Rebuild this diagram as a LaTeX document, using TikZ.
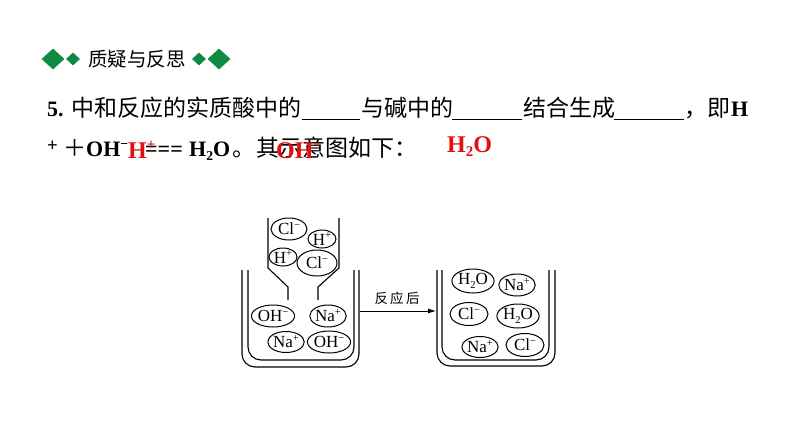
\documentclass[tikz,border=0pt]{standalone}
\usepackage{fontspec}
\usepackage{graphicx}
\setmainfont{Liberation Serif}
\newfontfamily\cjk{Noto Sans CJK SC}
\usetikzlibrary{shapes.geometric, arrows.meta}
\definecolor{mygreen}{HTML}{0F8A43}
\definecolor{myred}{HTML}{E01010}
\newcommand{\chup}[1]{\raisebox{0.36em}{\scalebox{0.62}{#1}}}
\newcommand{\chdn}[1]{\raisebox{-0.2em}{\scalebox{0.62}{#1}}}
\begin{document}
\begin{tikzpicture}[x=1pt, y=-1pt]
        \tikzstyle{big}=[draw=none, diamond, fill=mygreen,
            minimum width=23pt, minimum height=21pt, inner sep=0pt]
        \tikzstyle{small}=[draw=none, diamond, fill=mygreen,
            minimum width=14pt, minimum height=13pt, inner sep=0pt]
        \tikzstyle{title}=[inner sep=0pt, font=\cjk\fontsize{19.5}{20}\selectfont]
        \tikzstyle{line}=[anchor=base west, inner sep=0pt,
            font=\cjk\fontsize{23}{23}\selectfont]
        \tikzstyle{latin}=[anchor=base west, inner sep=0pt,
            font=\bfseries\fontsize{22}{22}\selectfont]
        \tikzstyle{answer}=[anchor=base west, inner sep=0pt, text=myred,
            font=\bfseries\fontsize{24}{24}\selectfont]
        \tikzstyle{ion}=[draw, ellipse, inner sep=0pt, line width=1pt,
            font=\fontsize{17}{17}\selectfont]
        \tikzstyle{wall}=[line width=1.1pt, rounded corners=13pt]
        \useasboundingbox (0, 0) rectangle (794, 447);

        \node[big] (d1) at (53, 59) {};
        \node[small] (d2) at (73, 59) {};
        \node[title] (head) at (137, 59) {质疑与反思};
        \node[small] (d3) at (199, 59) {};
        \node[big] (d4) at (219, 59) {};

        \node[latin] (num) at (47, 116) {5.};
        \node[line] (t1) at (71, 116) {中和反应的实质酸中的};
        \node[line] (t2) at (361, 116) {与碱中的};
        \node[line] (t3) at (523, 116) {结合生成};
        \node[line] (t4) at (684, 116) {，};
        \node[line] (t5) at (707, 116) {即};
        \node[latin] (hh) at (731, 116) {H};
        \draw[line width=1pt] (302, 119) -- (360, 119);
        \draw[line width=1pt] (452, 119) -- (522, 119);
        \draw[line width=1pt] (614, 119) -- (684, 119);

        \node[latin] (plus) at (47, 151) {\scalebox{0.85}{+}};
        \node[line] (pl) at (63, 156) {＋};
        \node[latin] (oh) at (86, 156) {OH\chup{−}};
        \node[latin] (eq) at (145, 156) {===};
        \node[latin] (wat) at (189, 156) {H\chdn{2}O};
        \node[line] (t6) at (232, 156) {。};
        \node[line] (t7) at (256, 156) {其示意图如下：};
        \node[answer] (ans1) at (128, 158) {H\chup{+}};
        \node[answer] (ans2) at (276, 158) {OH\chup{−}};
        \node[answer] (ans3) at (447, 152) {H\chdn{2}O};

        % left beaker
        \draw[wall] (242, 270) -- (242, 367) -- (359, 367) -- (359, 270);
        \draw[wall] (248, 270) -- (248, 360) -- (354, 360) -- (354, 270);
        % funnel
        \draw[line width=1.1pt] (268, 218) -- (268, 268) -- (288, 287) -- (288, 300);
        \draw[line width=1.1pt] (339, 218) -- (339, 268) -- (318, 287) -- (318, 300);
        % right beaker
        \draw[wall] (437, 270) -- (437, 366) -- (555, 366) -- (555, 270);
        \draw[wall] (442, 270) -- (442, 360) -- (549, 360) -- (549, 270);

        \node[ion, minimum width=36pt, minimum height=22pt] (cl1) at (289, 229) {Cl\chup{−}};
        \node[ion, minimum width=28pt, minimum height=18pt] (h1) at (322, 239) {H\chup{+}};
        \node[ion, minimum width=28pt, minimum height=18pt] (h2) at (283, 257) {H\chup{+}};
        \node[ion, minimum width=40pt, minimum height=26pt] (cl2) at (317, 263) {Cl\chup{−}};
        \node[ion, minimum width=38pt, minimum height=22pt] (oh1) at (273, 316) {OH\chup{−}};
        \node[ion, minimum width=33pt, minimum height=22pt] (na1) at (328, 316) {Na\chup{+}};
        \node[ion, minimum width=33pt, minimum height=21pt] (na2) at (286, 342) {Na\chup{+}};
        \node[ion, minimum width=38pt, minimum height=22pt] (oh2) at (329, 342) {OH\chup{−}};

        \node[ion, minimum width=38pt, minimum height=24pt] (w1) at (473, 281) {H\chdn{2}O};
        \node[ion, minimum width=34pt, minimum height=22pt] (na3) at (517, 285) {Na\chup{+}};
        \node[ion, minimum width=38pt, minimum height=23pt] (cl3) at (469, 314) {Cl\chup{−}};
        \node[ion, minimum width=38pt, minimum height=24pt] (w2) at (518, 316) {H\chdn{2}O};
        \node[ion, minimum width=33pt, minimum height=21pt] (na4) at (480, 347) {Na\chup{+}};
        \node[ion, minimum width=38pt, minimum height=23pt] (cl4) at (525, 345) {Cl\chup{−}};

        \coordinate (from) at (360, 311);
        \coordinate (to) at (436, 311);
        \draw[-{Latex[length=8pt, width=5pt]}, line width=0.8pt] (from) to (to);
        \node[inner sep=0pt, font=\cjk\fontsize{13.5}{14}\selectfont] (after) at (397, 298) {反\,应\,后};

    \end{tikzpicture}
\end{document}
